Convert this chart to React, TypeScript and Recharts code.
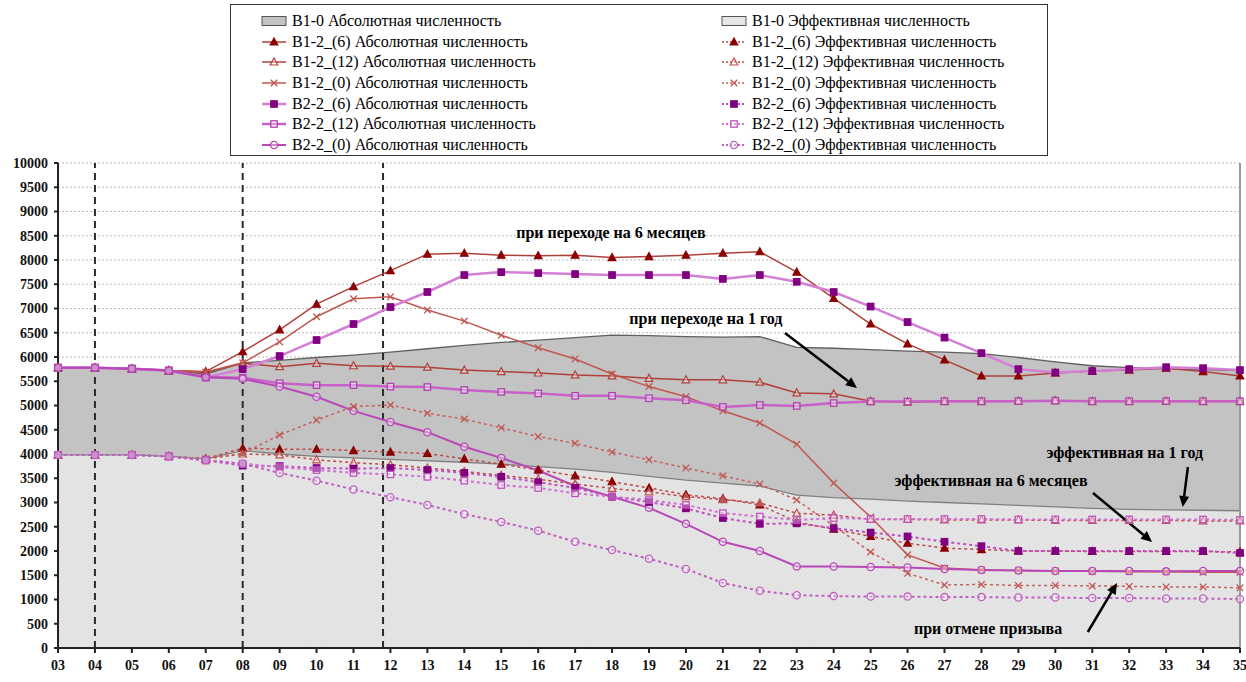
import React from 'react';
import { ComposedChart, Area, Line, XAxis, YAxis, CartesianGrid, ReferenceLine, ReferenceDot } from 'recharts';

const categories = [3,4,5,6,7,8,9,10,11,12,13,14,15,16,17,18,19,20,21,22,23,24,25,26,27,28,29,30,31,32,33,34,35];
const yTicks = [0,500,1000,1500,2000,2500,3000,3500,4000,4500,5000,5500,6000,6500,7000,7500,8000,8500,9000,9500,10000];

const b10Abs = [5780,5780,5760,5720,5650,5880,5930,5990,6040,6100,6170,6240,6300,6350,6400,6450,6440,6420,6410,6420,6200,6180,6150,6120,6100,6070,5990,5900,5820,5780,5760,5740,5720];
const b10Eff = [3980,3980,3980,3950,3900,4070,4000,3950,3920,3890,3860,3830,3790,3740,3690,3620,3540,3460,3400,3340,3150,3100,3070,3030,3000,2970,2940,2910,2880,2860,2850,2840,2830];

const b12_6Abs = [5780,5780,5760,5720,5700,6110,6560,7090,7450,7780,8120,8140,8100,8090,8100,8050,8070,8100,8140,8170,7750,7210,6680,6270,5940,5610,5610,5670,5710,5730,5770,5700,5610];
const b12_12Abs = [5780,5780,5760,5720,5680,5870,5800,5870,5820,5810,5790,5730,5700,5670,5630,5610,5560,5530,5530,5480,5260,5240,5090,5070,5080,5080,5090,5100,5080,5080,5090,5080,5080];
const b12_0Abs = [5780,5780,5760,5720,5690,5880,6310,6830,7200,7240,6970,6740,6450,6190,5960,5650,5390,5180,4890,4640,4200,3400,2700,1920,1650,1610,1600,1590,1580,1570,1570,1560,1560];
const b22_6Abs = [5780,5780,5760,5720,5580,5750,6020,6350,6680,7030,7340,7690,7750,7730,7710,7690,7690,7690,7610,7690,7550,7340,7040,6720,6400,6080,5750,5680,5710,5750,5790,5770,5730];
const b22_12Abs = [5780,5780,5760,5720,5590,5570,5460,5420,5420,5390,5380,5320,5280,5250,5200,5200,5150,5110,4970,5010,4990,5050,5080,5080,5090,5090,5090,5100,5090,5090,5090,5090,5090];
const b22_0Abs = [5780,5780,5760,5720,5580,5550,5390,5180,4890,4660,4450,4150,3920,3660,3340,3120,2890,2560,2190,2000,1680,1680,1670,1660,1630,1610,1600,1590,1590,1590,1580,1590,1590];

const b12_6Eff = [3980,3980,3980,3950,3900,4120,4100,4100,4070,4040,4010,3900,3790,3670,3550,3430,3300,3160,3080,2950,2600,2450,2300,2160,2060,2030,2000,2000,1990,1990,1990,1990,1980];
const b12_12Eff = [3980,3980,3980,3950,3900,4000,3980,3880,3820,3780,3710,3640,3560,3480,3380,3290,3220,3120,3060,2990,2780,2740,2650,2650,2640,2640,2640,2630,2630,2630,2630,2620,2620];
const b12_0Eff = [3980,3980,3980,3950,3900,4010,4390,4700,4980,5010,4840,4720,4540,4360,4220,4040,3880,3710,3550,3380,3050,2520,1980,1540,1300,1310,1290,1290,1280,1270,1260,1260,1240];
const b22_6Eff = [3980,3980,3980,3950,3870,3760,3750,3710,3700,3710,3670,3610,3530,3420,3300,3120,3010,2880,2680,2560,2570,2470,2380,2300,2190,2100,2000,2000,2000,2000,2000,2000,1960];
const b22_12Eff = [3980,3980,3980,3950,3870,3800,3730,3670,3610,3580,3530,3450,3360,3300,3190,3120,3050,2950,2780,2710,2640,2680,2660,2660,2660,2660,2650,2650,2650,2650,2650,2650,2640];
const b22_0Eff = [3980,3980,3980,3950,3870,3800,3610,3450,3270,3110,2950,2760,2600,2420,2190,2020,1840,1630,1340,1180,1090,1070,1060,1060,1050,1050,1040,1040,1030,1030,1020,1020,1010];

const periodLines = [4, 8, 11.8];

const annotations = [
  { x: 17.97, y: 8560, text: 'при переходе на 6 месяцев' },
  { x: 20.54, y: 6790, text: 'при переходе на 1 год' },
  { x: 31.88, y: 4030, text: 'эффективная на 1 год' },
  { x: 28.26, y: 3450, text: 'эффективная на 6 месяцев' },
  { x: 28.18, y: 400, text: 'при отмене призыва' },
];
const arrows = [
  { x1: 22.68, y1: 6495, x2: 24.63, y2: 5361 },
  { x1: 33.59, y1: 3732, x2: 33.45, y2: 2907 },
  { x1: 31.02, y1: 3196, x2: 32.62, y2: 2186 },
  { x1: 30.88, y1: 330, x2: 31.67, y2: 1340 },
];

const FONT = '"Times New Roman", "Liberation Serif", "DejaVu Serif", serif';

type Kind = 'tri' | 'sq' | 'circ' | 'x';
interface LineSeries { key: string; name: string; values: number[]; stroke: string; width: number; dashed: boolean; marker: Kind; mColor: string; filled: boolean; }

const lineSeries: LineSeries[] = [
  { key: 'b12_6Abs', name: 'B1-2_(6) Абсолютная численность', values: b12_6Abs, stroke: '#b0403a', width: 1.5, dashed: false, marker: 'tri', mColor: '#8b0000', filled: true },
  { key: 'b12_12Abs', name: 'B1-2_(12) Абсолютная численность', values: b12_12Abs, stroke: '#b0403a', width: 1.5, dashed: false, marker: 'tri', mColor: '#b0403a', filled: false },
  { key: 'b12_0Abs', name: 'B1-2_(0) Абсолютная численность', values: b12_0Abs, stroke: '#c05850', width: 1.5, dashed: false, marker: 'x', mColor: '#c05850', filled: false },
  { key: 'b22_6Abs', name: 'B2-2_(6) Абсолютная численность', values: b22_6Abs, stroke: '#d57ed5', width: 2.5, dashed: false, marker: 'sq', mColor: '#800080', filled: true },
  { key: 'b22_12Abs', name: 'B2-2_(12) Абсолютная численность', values: b22_12Abs, stroke: '#c860c8', width: 2.5, dashed: false, marker: 'sq', mColor: '#b040b0', filled: false },
  { key: 'b22_0Abs', name: 'B2-2_(0) Абсолютная численность', values: b22_0Abs, stroke: '#b848b8', width: 2, dashed: false, marker: 'circ', mColor: '#b848b8', filled: false },
  { key: 'b12_6Eff', name: 'B1-2_(6) Эффективная численность', values: b12_6Eff, stroke: '#c04848', width: 1.5, dashed: true, marker: 'tri', mColor: '#8b0000', filled: true },
  { key: 'b12_12Eff', name: 'B1-2_(12) Эффективная численность', values: b12_12Eff, stroke: '#c04848', width: 1.5, dashed: true, marker: 'tri', mColor: '#c05050', filled: false },
  { key: 'b12_0Eff', name: 'B1-2_(0) Эффективная численность', values: b12_0Eff, stroke: '#c86060', width: 1.5, dashed: true, marker: 'x', mColor: '#c05850', filled: false },
  { key: 'b22_6Eff', name: 'B2-2_(6) Эффективная численность', values: b22_6Eff, stroke: '#c050c0', width: 2, dashed: true, marker: 'sq', mColor: '#800080', filled: true },
  { key: 'b22_12Eff', name: 'B2-2_(12) Эффективная численность', values: b22_12Eff, stroke: '#d070d0', width: 2, dashed: true, marker: 'sq', mColor: '#c050c0', filled: false },
  { key: 'b22_0Eff', name: 'B2-2_(0) Эффективная численность', values: b22_0Eff, stroke: '#c060c0', width: 2, dashed: true, marker: 'circ', mColor: '#c060c0', filled: false },
];

const areaSeries = [
  { key: 'b10Abs', name: 'B1-0 Абсолютная численность', values: b10Abs, fill: '#c3c3c3', stroke: '#606060' },
  { key: 'b10Eff', name: 'B1-0 Эффективная численность', values: b10Eff, fill: 'url(#hatch)', stroke: '#808080' },
];

const data = categories.map((c, i) => {
  const row: Record<string, number> = { x: c };
  areaSeries.forEach((s) => { row[s.key] = s.values[i]; });
  lineSeries.forEach((s) => { row[s.key] = s.values[i]; });
  return row;
});

function markerShape(kind: Kind, cx: number, cy: number, color: string, filled: boolean, key?: React.Key) {
  const fill = filled ? color : '#ffffff';
  const fo = filled ? 1 : 0.35;
  if (kind === 'tri') {
    return <polygon key={key} points={`${cx},${cy - 4} ${cx - 3.8},${cy + 3} ${cx + 3.8},${cy + 3}`} fill={fill} fillOpacity={fo} stroke={color} strokeWidth={1.2} />;
  }
  if (kind === 'sq') {
    return <rect key={key} x={cx - 3.2} y={cy - 3.2} width={6.4} height={6.4} fill={fill} fillOpacity={fo} stroke={color} strokeWidth={1.3} />;
  }
  if (kind === 'circ') {
    return <circle key={key} cx={cx} cy={cy} r={3.6} fill={fill} fillOpacity={fo} stroke={color} strokeWidth={1.3} />;
  }
  return (
    <g key={key} stroke={color} strokeWidth={1.3}>
      <line x1={cx - 3.3} y1={cy - 3.3} x2={cx + 3.3} y2={cy + 3.3} />
      <line x1={cx - 3.3} y1={cy + 3.3} x2={cx + 3.3} y2={cy - 3.3} />
    </g>
  );
}

const makeDot = (s: LineSeries) => (p: any) => {
  if (p.cx == null || p.cy == null) return <g key={p.index} />;
  return markerShape(s.marker, p.cx, p.cy, s.mColor, s.filled, `${s.key}-${p.index}`);
};

const arrowShape = (p: any) => {
  const { x1, y1, x2, y2 } = p;
  if ([x1, y1, x2, y2].some((v) => v == null || isNaN(v))) return <g />;
  const ang = Math.atan2(y2 - y1, x2 - x1);
  const L = 11, W = 5;
  const bx = x2 - L * Math.cos(ang), by = y2 - L * Math.sin(ang);
  const px = -Math.sin(ang) * W, py = Math.cos(ang) * W;
  return (
    <g>
      <line x1={x1} y1={y1} x2={bx} y2={by} stroke="#000" strokeWidth={2.5} />
      <polygon points={`${x2},${y2} ${bx + px},${by + py} ${bx - px},${by - py}`} fill="#000" />
    </g>
  );
};

const textShape = (text: string) => (p: any) => (
  <text x={p.cx} y={p.cy} textAnchor="middle" dominantBaseline="central" style={{ fontFamily: FONT }} fontWeight="bold" fontSize={16} fill="#000">{text}</text>
);

const pad = (v: number) => String(v).padStart(2, '0');

function LegendIcon({ s }: { s: LineSeries }) {
  return (
    <svg width={26} height={12} style={{ display: 'block' }}>
      <line x1={1} y1={6} x2={25} y2={6} stroke={s.stroke} strokeWidth={s.width} strokeDasharray={s.dashed ? '2 2' : undefined} />
      {markerShape(s.marker, 13, 6, s.mColor, s.filled)}
    </svg>
  );
}

function AreaIcon({ fill }: { fill: string }) {
  return (
    <svg width={26} height={12} style={{ display: 'block' }}>
      <rect x={1} y={1.5} width={24} height={9} fill={fill} stroke="#555" strokeWidth={1} />
    </svg>
  );
}

function LegendBox() {
  const left = [areaSeries[0], ...lineSeries.slice(0, 6)];
  const right = [areaSeries[1], ...lineSeries.slice(6)];
  const rowStyle: React.CSSProperties = { display: 'flex', alignItems: 'center', height: 20.6, gap: 5 };
  const textStyle: React.CSSProperties = { fontFamily: FONT, fontSize: 16, color: '#000', whiteSpace: 'nowrap' };
  const col = (items: any[], x: number, areaFill: string) => (
    <div style={{ position: 'absolute', left: x, top: 6 }}>
      {items.map((s, i) => (
        <div key={s.key} style={rowStyle}>
          {i === 0 ? <AreaIcon fill={areaFill} /> : <LegendIcon s={s} />}
          <span style={textStyle}>{s.name}</span>
        </div>
      ))}
    </div>
  );
  return (
    <div style={{ position: 'absolute', left: 230, top: 4, width: 818, height: 152, border: '1.5px solid #333', background: '#fff', boxSizing: 'border-box' }}>
      {col(left, 30, '#c3c3c3')}
      {col(right, 490, '#e6e6e6')}
    </div>
  );
}

const tickStyle = { fontFamily: FONT, fontWeight: 'bold', fontSize: 14, fill: '#111' };

export default function App() {
  return (
    <div style={{ position: 'absolute', left: 0, top: 0, width: 1246, height: 682, background: '#fff' }}>
      <ComposedChart width={1246} height={682} data={data} margin={{ top: 163, right: 6, left: 8, bottom: 9 }} style={{ fontFamily: FONT }}>
        <defs>
          <pattern id="hatch" width="3" height="3" patternUnits="userSpaceOnUse" patternTransform="rotate(45)">
            <rect width="3" height="3" fill="#e6e6e6" />
            <line x1="0" y1="0" x2="0" y2="3" stroke="#d6d6d6" strokeWidth="1" />
          </pattern>
        </defs>
        <CartesianGrid vertical={false} stroke="#b8b8b8" strokeDasharray="2 2" />
        <XAxis
          dataKey="x"
          type="number"
          domain={[3, 35]}
          ticks={categories}
          interval={0}
          tickFormatter={pad}
          stroke="#222"
          strokeWidth={2}
          tickSize={5}
          tickMargin={7}
          height={25}
          tick={tickStyle}
        />
        <YAxis
          type="number"
          domain={[0, 10000]}
          ticks={yTicks}
          interval={0}
          stroke="#222"
          strokeWidth={2}
          tickSize={4}
          tickMargin={6}
          width={50}
          tick={tickStyle}
        />
        {areaSeries.map((s) => (
          <Area key={s.key} type="linear" dataKey={s.key} name={s.name} fill={s.fill} fillOpacity={1} stroke={s.stroke} strokeWidth={1.3} isAnimationActive={false} dot={false} activeDot={false} />
        ))}
        <ReferenceLine x={35} stroke="#9a9a9a" strokeWidth={2} />
        {periodLines.map((v) => (
          <ReferenceLine key={v} x={v} stroke="#2a2a2a" strokeWidth={2} strokeDasharray="7 5" />
        ))}
        {lineSeries.map((s) => (
          <Line key={s.key} type="linear" dataKey={s.key} name={s.name} stroke={s.stroke} strokeWidth={s.width} strokeDasharray={s.dashed ? '3 3' : undefined} dot={makeDot(s)} activeDot={false} isAnimationActive={false} />
        ))}
        {arrows.map((a, i) => (
          <ReferenceLine key={`arr${i}`} segment={[{ x: a.x1, y: a.y1 }, { x: a.x2, y: a.y2 }]} shape={arrowShape} ifOverflow="visible" />
        ))}
        {annotations.map((a, i) => (
          <ReferenceDot key={`ann${i}`} x={a.x} y={a.y} r={0} shape={textShape(a.text)} ifOverflow="visible" />
        ))}
      </ComposedChart>
      <LegendBox />
    </div>
  );
}
